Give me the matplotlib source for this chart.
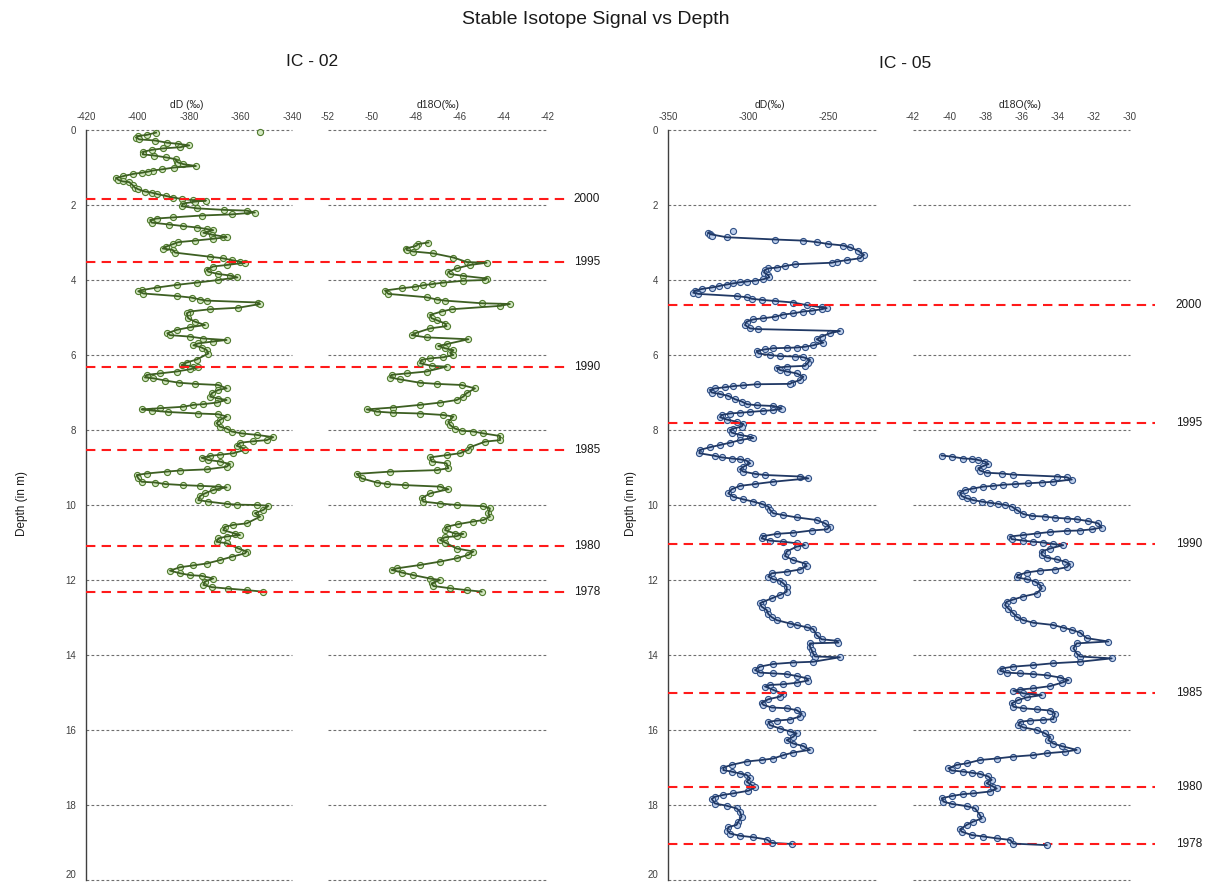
import matplotlib
matplotlib.use("Agg")
import matplotlib.pyplot as plt
from matplotlib.transforms import blended_transform_factory

plt.rcParams['font.family'] = ['Liberation Sans', 'DejaVu Sans']

# ---------------- data ----------------
# IC-02, deuterium (per mil) vs depth (m)
ic02_dD_depth = [0.07, 0.13, 0.16, 0.20, 0.25, 0.28, 0.34, 0.37, 0.41, 0.46, 0.49, 0.53, 0.58, 0.65, 0.68,
                 0.73, 0.78, 0.84, 0.87, 0.91, 0.96, 1.00, 1.05, 1.08, 1.11, 1.14, 1.17, 1.23, 1.28, 1.33,
                 1.37, 1.39, 1.47, 1.54, 1.58, 1.64, 1.67, 1.71, 1.76, 1.80, 1.84, 1.87, 1.88, 1.91, 1.96,
                 2.03, 2.09, 2.13, 2.15, 2.20, 2.25, 2.28, 2.33, 2.36, 2.40, 2.47, 2.52, 2.56, 2.60, 2.64,
                 2.67, 2.74, 2.79, 2.84, 2.86, 2.90, 2.95, 2.99, 3.04, 3.11, 3.16, 3.20, 3.27, 3.38, 3.42,
                 3.47, 3.51, 3.54, 3.60, 3.64, 3.72, 3.78, 3.84, 3.88, 3.93, 4.00, 4.07, 4.13, 4.20, 4.27,
                 4.30, 4.36, 4.43, 4.47, 4.52, 4.55, 4.60, 4.64, 4.74, 4.78, 4.84, 4.89, 5.02, 5.11, 5.20,
                 5.26, 5.33, 5.42, 5.47, 5.51, 5.56, 5.60, 5.64, 5.69, 5.74, 5.80, 5.87, 5.96, 6.12, 6.20,
                 6.27, 6.31, 6.33, 6.38, 6.44, 6.49, 6.53, 6.60, 6.62, 6.68, 6.74, 6.77, 6.80, 6.89, 6.93,
                 7.02, 7.11, 7.16, 7.20, 7.27, 7.31, 7.33, 7.38, 7.42, 7.45, 7.48, 7.52, 7.56, 7.58, 7.64,
                 7.73, 7.82, 7.91, 7.96, 8.04, 8.09, 8.13, 8.19, 8.27, 8.30, 8.34, 8.42, 8.49, 8.53, 8.62,
                 8.66, 8.69, 8.74, 8.80, 8.84, 8.91, 8.98, 9.05, 9.08, 9.11, 9.16, 9.20, 9.29, 9.38, 9.40,
                 9.44, 9.47, 9.49, 9.51, 9.53, 9.60, 9.69, 9.76, 9.87, 9.91, 9.97, 9.99, 10.00, 10.02, 10.13,
                 10.22, 10.31, 10.49, 10.53, 10.58, 10.67, 10.76, 10.80, 10.84, 10.89, 10.98, 11.02, 11.16,
                 11.24, 11.29, 11.38, 11.47, 11.56, 11.61, 11.66, 11.75, 11.82, 11.87, 11.89, 11.96, 12.04,
                 12.13, 12.19, 12.23, 12.27, 12.31]
ic02_dD = [-392.8, -396.4, -399.7, -400.6, -399.3, -393.2, -388.4, -384.1, -379.9, -383.5, -390.0, -394.5,
           -397.7, -398.0, -393.6, -388.9, -385.1, -384.8, -384.1, -382.2, -377.3, -385.8, -390.6, -393.9,
           -395.8, -398.4, -401.6, -405.5, -408.4, -407.4, -405.8, -403.2, -401.9, -401.0, -399.7, -397.1,
           -394.5, -392.3, -388.9, -386.1, -382.9, -378.3, -373.4, -377.7, -382.2, -382.9, -376.8, -366.4,
           -357.6, -354.4, -363.4, -375.1, -386.1, -392.6, -395.1, -394.5, -387.6, -382.5, -376.8, -373.1,
           -370.6, -374.4, -371.2, -366.7, -365.4, -370.6, -377.7, -384.1, -386.1, -388.9, -390.2, -386.3,
           -385.4, -371.8, -366.9, -363.4, -360.2, -358.3, -365.4, -370.6, -373.1, -372.5, -368.6, -364.1,
           -361.2, -368.6, -377.0, -384.8, -392.3, -398.4, -399.7, -397.7, -384.5, -379.0, -375.7, -373.1,
           -353.1, -352.4, -360.8, -371.8, -379.6, -380.9, -380.3, -377.7, -373.8, -379.6, -384.8, -388.4,
           -387.4, -379.6, -374.4, -365.4, -370.6, -376.4, -378.3, -375.1, -373.1, -372.5, -377.0, -380.9,
           -382.9, -378.3, -376.4, -379.6, -384.8, -391.3, -396.4, -397.1, -393.9, -389.3, -383.8, -377.7,
           -368.6, -365.4, -368.6, -371.2, -371.8, -368.6, -365.4, -369.3, -374.4, -378.3, -382.2, -391.3,
           -398.4, -394.5, -388.0, -376.4, -368.6, -365.4, -368.0, -369.3, -368.0, -365.4, -363.4, -359.6,
           -353.7, -347.3, -349.8, -355.0, -360.2, -361.5, -358.9, -358.3, -362.8, -368.0, -371.8, -375.1,
           -372.5, -368.0, -364.1, -365.4, -373.1, -383.5, -388.7, -396.4, -400.3, -399.7, -398.4, -393.2,
           -389.3, -382.2, -375.7, -368.6, -365.4, -370.6, -373.8, -375.7, -376.4, -372.5, -365.4, -361.5,
           -353.7, -349.2, -351.1, -354.4, -352.4, -357.6, -362.8, -366.0, -366.7, -362.1, -360.2, -365.4,
           -368.6, -369.3, -365.4, -360.8, -357.6, -358.3, -363.4, -368.0, -373.1, -378.3, -383.5, -387.4,
           -383.5, -379.6, -375.1, -370.6, -373.8, -374.4, -371.2, -364.7, -357.6, -351.4]
ic02_dD_extra_depth = [0.04]
ic02_dD_extra = [-352.3]

# IC-02, oxygen-18 (per mil) vs depth (m)
ic02_d18O_depth = [3.00, 3.04, 3.09, 3.16, 3.20, 3.24, 3.29, 3.40, 3.52, 3.54, 3.60, 3.69, 3.78, 3.84, 3.89,
                   3.96, 4.00, 4.02, 4.07, 4.11, 4.14, 4.18, 4.22, 4.28, 4.37, 4.46, 4.52, 4.55, 4.62, 4.64,
                   4.69, 4.78, 4.84, 4.93, 5.02, 5.07, 5.16, 5.23, 5.29, 5.42, 5.47, 5.53, 5.58, 5.71, 5.76,
                   5.82, 5.87, 5.94, 6.00, 6.06, 6.09, 6.13, 6.22, 6.29, 6.31, 6.44, 6.49, 6.53, 6.60, 6.65,
                   6.74, 6.77, 6.80, 6.89, 7.02, 7.11, 7.20, 7.27, 7.33, 7.40, 7.45, 7.51, 7.54, 7.56, 7.60,
                   7.64, 7.78, 7.87, 7.96, 8.02, 8.04, 8.09, 8.16, 8.27, 8.31, 8.46, 8.53, 8.62, 8.67, 8.73,
                   8.84, 8.89, 9.02, 9.07, 9.11, 9.17, 9.29, 9.40, 9.44, 9.47, 9.51, 9.58, 9.69, 9.82, 9.91,
                   9.96, 10.00, 10.03, 10.09, 10.22, 10.31, 10.40, 10.44, 10.51, 10.58, 10.67, 10.76, 10.77,
                   10.83, 10.86, 10.93, 11.00, 11.16, 11.24, 11.33, 11.42, 11.51, 11.60, 11.69, 11.73, 11.80,
                   11.87, 11.96, 12.00, 12.09, 12.16, 12.22, 12.27, 12.31]
ic02_d18O = [-47.44, -47.89, -48.00, -48.45, -48.42, -48.12, -47.21, -46.30, -45.70, -44.79, -45.55, -46.15,
             -46.53, -46.45, -45.85, -44.79, -44.86, -45.85, -46.76, -47.29, -47.67, -48.04, -48.65, -49.41,
             -49.26, -47.52, -47.06, -46.68, -45.02, -43.73, -44.18, -46.38, -46.83, -47.36, -47.29, -47.06,
             -46.68, -46.61, -47.36, -48.04, -48.20, -47.52, -45.62, -46.61, -46.99, -46.68, -46.30, -46.45,
             -46.30, -46.76, -47.36, -47.74, -47.82, -47.29, -46.61, -47.52, -48.42, -49.11, -49.18, -48.73,
             -47.82, -47.06, -45.92, -45.32, -45.70, -45.85, -46.15, -46.91, -47.82, -49.03, -50.24, -49.79,
             -49.03, -47.82, -46.76, -46.30, -46.53, -46.45, -46.23, -45.92, -45.39, -44.94, -44.18, -44.18,
             -44.86, -45.55, -45.62, -46.00, -46.61, -47.36, -47.29, -46.61, -46.53, -47.06, -49.18, -50.70,
             -50.47, -49.79, -49.33, -48.50, -46.91, -46.53, -47.36, -47.74, -47.67, -46.91, -46.15, -44.94,
             -44.64, -44.71, -44.64, -44.94, -45.39, -46.08, -46.61, -46.68, -46.23, -45.85, -46.15, -46.68,
             -46.91, -46.68, -46.15, -45.39, -45.62, -46.15, -46.91, -47.82, -48.88, -49.11, -48.65, -48.12,
             -47.36, -46.91, -47.29, -47.21, -46.45, -45.70, -45.02]

# IC-05, deuterium (per mil) vs depth (m)
ic05_dD_depth = [2.74, 2.78, 2.86, 2.92, 2.95, 2.99, 3.04, 3.08, 3.13, 3.22, 3.33, 3.42, 3.47, 3.51, 3.54,
                 3.58, 3.63, 3.67, 3.69, 3.73, 3.80, 3.87, 3.93, 3.98, 4.02, 4.04, 4.06, 4.09, 4.12, 4.16,
                 4.20, 4.24, 4.28, 4.34, 4.37, 4.43, 4.46, 4.50, 4.53, 4.56, 4.60, 4.67, 4.73, 4.75, 4.78,
                 4.82, 4.84, 4.89, 4.92, 4.98, 5.02, 5.05, 5.11, 5.20, 5.29, 5.31, 5.36, 5.42, 5.51, 5.58,
                 5.67, 5.74, 5.78, 5.80, 5.81, 5.82, 5.85, 5.89, 5.96, 6.00, 6.03, 6.04, 6.06, 6.12, 6.20,
                 6.29, 6.31, 6.34, 6.40, 6.44, 6.49, 6.58, 6.67, 6.74, 6.77, 6.78, 6.81, 6.83, 6.86, 6.89,
                 6.93, 7.00, 7.04, 7.09, 7.18, 7.24, 7.31, 7.34, 7.36, 7.40, 7.43, 7.47, 7.49, 7.52, 7.54,
                 7.56, 7.60, 7.66, 7.72, 7.78, 7.84, 7.91, 7.96, 8.00, 8.07, 8.13, 8.18, 8.21, 8.27, 8.34,
                 8.40, 8.46, 8.53, 8.62, 8.69, 8.73, 8.76, 8.78, 8.82, 8.89, 8.98, 9.05, 9.11, 9.17, 9.20,
                 9.24, 9.29, 9.38, 9.44, 9.49, 9.58, 9.69, 9.78, 9.85, 9.91, 9.97, 10.04, 10.13, 10.22,
                 10.27, 10.33, 10.40, 10.49, 10.58, 10.65, 10.68, 10.74, 10.77, 10.83, 10.89, 10.95, 10.98,
                 11.02, 11.07, 11.11, 11.24, 11.36, 11.47, 11.56, 11.63, 11.72, 11.78, 11.82, 11.91, 11.98,
                 12.02, 12.09, 12.18, 12.31, 12.40, 12.49, 12.58, 12.62, 12.71, 12.80, 12.91, 12.99, 13.07,
                 13.16, 13.20, 13.26, 13.31, 13.47, 13.58, 13.62, 13.67, 13.69, 13.78, 13.87, 13.97, 14.04,
                 14.06, 14.18, 14.20, 14.24, 14.31, 14.40, 14.47, 14.49, 14.51, 14.56, 14.62, 14.68, 14.74,
                 14.78, 14.80, 14.84, 14.93, 15.04, 15.11, 15.18, 15.27, 15.33, 15.40, 15.42, 15.47, 15.56,
                 15.64, 15.72, 15.75, 15.78, 15.87, 15.96, 16.04, 16.09, 16.18, 16.27, 16.36, 16.43, 16.53,
                 16.60, 16.67, 16.76, 16.80, 16.84, 16.93, 17.00, 17.07, 17.11, 17.16, 17.20, 17.29, 17.38,
                 17.47, 17.53, 17.62, 17.69, 17.73, 17.78, 17.84, 17.96, 18.02, 18.09, 18.18, 18.31, 18.44,
                 18.53, 18.59, 18.68, 18.76, 18.82, 18.86, 18.92, 19.01, 19.04]
ic05_dD = [-324.8, -323.5, -313.3, -283.1, -265.4, -257.1, -249.8, -240.4, -236.3, -231.0, -227.5, -230.0,
           -238.3, -244.6, -247.7, -270.6, -276.9, -282.1, -287.3, -289.4, -290.0, -287.3, -286.7, -290.4,
           -295.6, -300.8, -305.0, -309.2, -313.3, -317.9, -322.7, -328.9, -333.1, -334.2, -331.0, -307.1,
           -300.8, -297.7, -291.5, -283.1, -271.7, -263.3, -254.0, -250.8, -254.0, -260.2, -265.4, -271.7,
           -277.9, -283.1, -290.4, -296.7, -300.8, -301.9, -298.7, -293.5, -242.5, -248.8, -254.0, -257.1,
           -252.9, -259.2, -264.4, -269.6, -275.8, -284.2, -289.4, -294.6, -293.5, -286.3, -280.0, -270.6,
           -265.4, -261.3, -262.3, -264.4, -275.8, -282.1, -280.0, -275.8, -269.6, -265.4, -267.5, -272.7,
           -273.7, -294.6, -302.9, -309.2, -314.4, -320.6, -323.8, -322.7, -317.5, -312.3, -308.1, -303.9,
           -300.8, -294.6, -284.2, -280.0, -279.0, -284.2, -290.4, -298.7, -305.0, -311.3, -316.5, -317.5,
           -313.3, -307.1, -302.9, -304.0, -309.2, -311.3, -310.2, -305.0, -298.7, -296.7, -305.0, -311.3,
           -317.5, -323.8, -330.0, -330.4, -320.6, -316.5, -310.2, -305.0, -300.8, -298.7, -302.9, -305.0,
           -302.9, -295.6, -289.4, -267.5, -262.3, -284.2, -295.6, -305.0, -310.2, -312.3, -309.2, -302.9,
           -296.7, -291.5, -287.3, -286.3, -284.2, -277.9, -269.6, -257.1, -251.9, -248.8, -250.8, -260.2,
           -271.7, -282.1, -290.4, -291.5, -286.3, -277.9, -269.6, -264.4, -269.6, -275.8, -276.9, -271.7,
           -264.4, -263.3, -267.5, -275.8, -285.2, -287.3, -284.2, -280.0, -277.9, -275.8, -275.8, -280.0,
           -285.2, -290.4, -292.5, -291.5, -288.3, -287.3, -285.2, -282.1, -273.7, -269.6, -263.3, -259.2,
           -257.1, -254.0, -244.6, -243.5, -261.3, -261.3, -260.2, -259.2, -258.1, -242.5, -259.2, -271.7,
           -284.2, -292.5, -295.6, -292.5, -284.2, -275.8, -269.6, -263.3, -262.3, -269.6, -277.9, -286.3,
           -289.4, -284.2, -277.9, -280.0, -287.3, -291.5, -290.4, -285.2, -275.8, -269.6, -266.5, -267.5,
           -273.7, -282.1, -287.3, -286.3, -280.0, -273.7, -269.6, -271.7, -275.8, -271.7, -265.4, -261.3,
           -271.7, -277.9, -284.2, -291.5, -300.8, -310.2, -315.4, -315.4, -310.2, -305.0, -300.8, -298.7,
           -300.8, -297.7, -295.6, -299.8, -309.2, -315.4, -320.6, -322.7, -320.6, -313.3, -307.1, -305.0,
           -304.0, -306.0, -307.1, -312.3, -312.9, -311.3, -305.0, -296.7, -288.3, -285.2, -272.7]
ic05_dD_extra_depth = [2.69, 2.80, 2.83]
ic05_dD_extra = [-309.2, -323.8, -322.7]

# IC-05, oxygen-18 (per mil) vs depth (m)
ic05_d18O_depth = [8.68, 8.71, 8.76, 8.77, 8.80, 8.84, 8.91, 8.96, 9.02, 9.08, 9.14, 9.16, 9.19, 9.24, 9.26,
                   9.32, 9.38, 9.40, 9.42, 9.44, 9.46, 9.49, 9.51, 9.56, 9.60, 9.67, 9.76, 9.82, 9.87, 9.91,
                   9.94, 9.97, 10.00, 10.04, 10.13, 10.24, 10.29, 10.31, 10.34, 10.36, 10.38, 10.43, 10.49,
                   10.60, 10.65, 10.68, 10.69, 10.72, 10.76, 10.80, 10.84, 10.91, 10.95, 10.98, 11.00, 11.04,
                   11.07, 11.16, 11.24, 11.33, 11.40, 11.45, 11.51, 11.58, 11.66, 11.72, 11.75, 11.80, 11.87,
                   11.93, 11.98, 12.04, 12.13, 12.22, 12.36, 12.44, 12.52, 12.58, 12.67, 12.76, 12.89, 12.98,
                   13.07, 13.14, 13.20, 13.27, 13.33, 13.40, 13.55, 13.64, 13.69, 13.82, 13.96, 14.04, 14.09,
                   14.18, 14.22, 14.27, 14.31, 14.36, 14.42, 14.47, 14.49, 14.51, 14.54, 14.60, 14.67, 14.74,
                   14.83, 14.89, 14.92, 14.95, 15.02, 15.07, 15.13, 15.20, 15.29, 15.38, 15.42, 15.45, 15.48,
                   15.56, 15.71, 15.73, 15.75, 15.78, 15.87, 15.93, 16.00, 16.09, 16.18, 16.27, 16.36, 16.43,
                   16.53, 16.58, 16.62, 16.67, 16.71, 16.76, 16.80, 16.89, 16.93, 17.02, 17.08, 17.11, 17.14,
                   17.17, 17.24, 17.33, 17.42, 17.51, 17.56, 17.64, 17.69, 17.71, 17.76, 17.82, 17.91, 17.97,
                   18.03, 18.09, 18.27, 18.36, 18.44, 18.53, 18.65, 18.71, 18.80, 18.84, 18.89, 18.93, 19.03,
                   19.07]
ic05_d18O = [-40.41, -39.86, -39.22, -38.76, -38.39, -38.02, -37.83, -38.11, -38.39, -38.30, -37.93, -37.10,
             -36.45, -34.06, -33.50, -33.22, -34.24, -34.88, -35.62, -36.36, -37.00, -37.56, -38.11, -38.66,
             -39.12, -39.40, -39.31, -39.03, -38.66, -38.20, -37.74, -37.28, -36.91, -36.54, -36.27, -35.90,
             -35.44, -34.70, -34.15, -33.50, -32.95, -32.30, -31.75, -31.57, -32.12, -32.77, -33.50, -34.42,
             -35.16, -35.90, -36.63, -36.54, -35.90, -35.35, -34.79, -34.24, -33.69, -34.42, -34.88, -34.88,
             -34.61, -34.06, -33.60, -33.32, -33.50, -34.15, -34.98, -35.71, -36.18, -36.27, -35.71, -35.25,
             -34.98, -34.88, -35.16, -35.90, -36.45, -36.82, -36.91, -36.73, -36.45, -36.27, -35.90, -35.35,
             -34.24, -33.69, -33.22, -32.77, -32.40, -31.20, -32.95, -33.13, -32.95, -32.77, -31.01, -32.77,
             -34.24, -35.35, -36.45, -37.10, -37.19, -36.82, -36.08, -35.35, -34.61, -33.87, -33.41, -33.78,
             -34.42, -35.35, -36.08, -36.45, -35.90, -34.88, -35.71, -36.18, -36.54, -36.45, -35.90, -35.16,
             -34.42, -34.15, -34.24, -34.79, -35.53, -36.08, -36.18, -35.90, -35.16, -34.70, -34.42, -34.52,
             -34.24, -33.78, -32.95, -33.60, -34.61, -35.35, -36.45, -37.37, -38.30, -39.03, -39.59, -40.04,
             -39.86, -39.22, -38.76, -38.30, -37.83, -37.65, -37.93, -37.56, -37.37, -37.74, -38.66, -39.22,
             -39.86, -40.41, -40.32, -39.86, -39.03, -38.57, -38.30, -38.20, -38.66, -39.03, -39.40, -39.31,
             -38.76, -38.11, -37.37, -36.63, -36.45, -34.61]

# dated horizons: (year, depth in m)
ic02_years = ["2000", "1995", "1990", "1985", "1980", "1978"]
ic02_year_depth = [1.84, 3.52, 6.32, 8.53, 11.09, 12.32]
ic05_years = ["2000", "1995", "1990", "1985", "1980", "1978"]
ic05_year_depth = [4.67, 7.81, 11.04, 15.01, 17.52, 19.04]

depth_ticks = list(range(0, 21, 2))

# ---------------- figure ----------------
W, H = 1210, 883
fig = plt.figure(figsize=(W / 100, H / 100), dpi=100)
fig.patch.set_facecolor("white")

TOP, BOT = 130, 880


def make_axes(x0, x1):
    return fig.add_axes([x0 / W, 1 - BOT / H, (x1 - x0) / W, (BOT - TOP) / H])


GREEN_LINE = "#3d5f22"
GREEN_EDGE = "#4f7a2c"
GREEN_FACE = "#d3e8c2"
BLUE_LINE = "#203864"
BLUE_EDGE = "#2f4f85"
BLUE_FACE = "#bfd0ec"
GRID = "#6e6e6e"
TICKC = "#404040"


def style_axes(ax, xlim, xticks, title, title_x, with_depth):
    ax.set_ylim(20, 0)
    ax.set_xlim(*xlim)
    ax.set_facecolor("none")
    ax.xaxis.tick_top()
    ax.set_xticks(xticks)
    ax.set_xticklabels([f"{t:g}" for t in xticks])
    ax.tick_params(axis="x", length=0, labelsize=7, pad=6, colors=TICKC)
    for s in ("top", "right", "bottom"):
        ax.spines[s].set_visible(False)
    if with_depth:
        ax.spines["left"].set_color("#404040")
        ax.spines["left"].set_linewidth(1.0)
        ax.set_yticks(depth_ticks)
        ax.tick_params(axis="y", length=0, labelsize=7, pad=7, colors=TICKC)
        # keep the deepest label inside the canvas
        ax.get_yticklabels()[-1].set_va("bottom")
    else:
        ax.spines["left"].set_visible(False)
        ax.set_yticks([])
    for d in depth_ticks:
        ax.axhline(d, color=GRID, lw=0.8, ls=(0, (2.5, 2)), zorder=1, clip_on=False)
    fig.text(title_x / W, 1 - 105 / H, title, ha="center", va="center", fontsize=7.5, color="#262626")


def draw_series(ax, depth, values, line_c, edge_c, face_c, extra_d=None, extra_v=None):
    ax.plot(values, depth, ls="none", marker="o", ms=4.4, mfc=face_c, mec=edge_c, mew=0.8, zorder=2,
            clip_on=False)
    if extra_d:
        ax.plot(extra_v, extra_d, ls="none", marker="o", ms=4.4, mfc=face_c, mec=edge_c, mew=0.8,
                zorder=2, clip_on=False)
    ax.plot(values, depth, color=line_c, lw=1.3, zorder=3, clip_on=False)


def draw_years(ax, names, depths, x0, x1, label_x):
    tr = blended_transform_factory(fig.transFigure, ax.transData)
    for name, d in zip(names, depths):
        ax.plot([x0 / W, x1 / W], [d, d], transform=tr, color="#ff1a1a", lw=1.5,
                ls=(0, (4.5, 3)), zorder=4, clip_on=False)
        ax.text(label_x / W, d, name, transform=tr, ha="center", va="center", fontsize=8.5,
                color="#1a1a1a")


# IC-02
ax1 = make_axes(86, 292)
style_axes(ax1, (-420, -340), [-420, -400, -380, -360, -340], "dD (\u2030)", 187, True)
draw_series(ax1, ic02_dD_depth, ic02_dD, GREEN_LINE, GREEN_EDGE, GREEN_FACE,
            ic02_dD_extra_depth, ic02_dD_extra)
ax2 = make_axes(328, 548)
style_axes(ax2, (-52, -42), [-52, -50, -48, -46, -44, -42], "d18O(\u2030)", 438, False)
draw_series(ax2, ic02_d18O_depth, ic02_d18O, GREEN_LINE, GREEN_EDGE, GREEN_FACE)
draw_years(ax1, ic02_years, ic02_year_depth, 86, 567, 587)

# IC-05
ax3 = make_axes(668, 876)
style_axes(ax3, (-350, -220), [-350, -300, -250], "dD(\u2030)", 770, True)
draw_series(ax3, ic05_dD_depth, ic05_dD, BLUE_LINE, BLUE_EDGE, BLUE_FACE,
            ic05_dD_extra_depth, ic05_dD_extra)
ax4 = make_axes(913, 1130)
style_axes(ax4, (-42, -30), [-42, -40, -38, -36, -34, -32, -30], "d18O(\u2030)", 1020, False)
draw_series(ax4, ic05_d18O_depth, ic05_d18O, BLUE_LINE, BLUE_EDGE, BLUE_FACE)
draw_years(ax3, ic05_years, ic05_year_depth, 668, 1155, 1189)

# titles and depth labels
fig.text(596 / W, 1 - 19 / H, "Stable Isotope Signal vs Depth", ha="center", va="center",
         fontsize=14, color="#1a1a1a")
fig.text(312 / W, 1 - 62 / H, "IC - 02", ha="center", va="center", fontsize=12.5, color="#1a1a1a")
fig.text(905 / W, 1 - 64 / H, "IC - 05", ha="center", va="center", fontsize=12.5, color="#1a1a1a")
fig.text(22 / W, 1 - 503 / H, "Depth (in m)", rotation=90, ha="center", va="center", fontsize=8.5,
         color="#1a1a1a")
fig.text(631 / W, 1 - 503 / H, "Depth (in m)", rotation=90, ha="center", va="center", fontsize=8.5,
         color="#1a1a1a")

fig.savefig("out.png", dpi=100, facecolor="white")
